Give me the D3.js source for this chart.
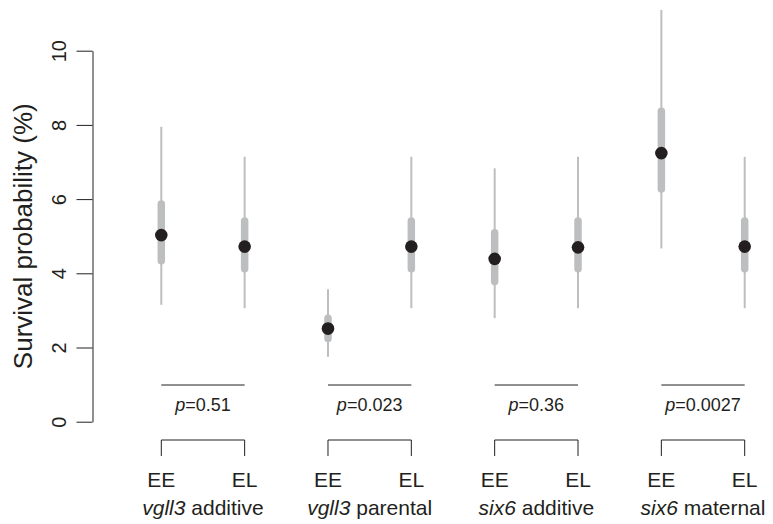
<!DOCTYPE html>
<html>
<head>
<meta charset="utf-8">
<script src="https://cdn.jsdelivr.net/npm/d3@7"></script>
<style>
  body { margin: 0; background: #fff; }
  text { font-family: "Liberation Sans", Arial, Helvetica, sans-serif; fill: #231f20; }
</style>
</head>
<body>
<div id="chart"></div>
<script>
// Genotype categories along the x axis (two per comparison)
var genotypes = ["EE", "EL", "EE", "EL", "EE", "EL", "EE", "EL"];
// Comparison labels: gene (italic) + model
var genes = ["vgll3", "vgll3", "six6", "six6"];
var models = ["additive", "parental", "additive", "maternal"];
var pValues = ["0.51", "0.023", "0.36", "0.0027"];

// Survival probability (%) estimates and intervals
var estimate = [5.03, 4.72, 2.51, 4.72, 4.39, 4.70, 7.24, 4.72];
var inner_lo = [4.34, 4.12, 2.24, 4.12, 3.78, 4.12, 6.27, 4.12];
var inner_hi = [5.87, 5.41, 2.79, 5.41, 5.09, 5.41, 8.37, 5.41];
var outer_lo = [3.15, 3.06, 1.75, 3.06, 2.79, 3.06, 4.67, 3.06];
var outer_hi = [7.95, 7.14, 3.57, 7.14, 6.83, 7.14, 11.1, 7.14];

var yTicks = [0, 2, 4, 6, 8, 10];

var width = 773, height = 524;
var grey = "#bdbec0", dark = "#231f20";

var svg = d3.select("#chart").append("svg")
    .attr("width", width)
    .attr("height", height);

// Scales
var x = d3.scaleLinear().domain([0, 7]).range([161.3, 744.7]);
var y = d3.scaleLinear().domain([0, 10]).range([421.7, 50.7]);

// Y axis
var yAxis = svg.append("g")
    .attr("transform", "translate(92.5,0)")
    .call(d3.axisLeft(y).tickValues(yTicks).tickSize(16).tickSizeOuter(0).tickFormat(d3.format("d")));
yAxis.select(".domain").attr("stroke", dark);
yAxis.selectAll(".tick line").attr("stroke", dark);
yAxis.selectAll(".tick text")
    .attr("x", null).attr("dy", null)
    .attr("transform", "translate(-27,0) rotate(-90)")
    .attr("text-anchor", "middle")
    .style("font-size", "20px")
    .attr("fill", dark);

// Y label
svg.append("text")
    .attr("transform", "translate(32," + ((y(0) + y(10)) / 2) + ") rotate(-90)")
    .attr("text-anchor", "middle")
    .style("font-size", "26px")
    .text("Survival probability (%)");

var idx = d3.range(estimate.length);

// Outer intervals (thin)
svg.selectAll(".outer")
    .data(idx)
    .enter()
    .append("line")
    .attr("x1", d => x(d)).attr("x2", d => x(d))
    .attr("y1", d => y(outer_lo[d])).attr("y2", d => y(outer_hi[d]))
    .attr("stroke", grey)
    .attr("stroke-width", 2);

// Inner intervals (thick, round ends)
svg.selectAll(".inner")
    .data(idx)
    .enter()
    .append("line")
    .attr("x1", d => x(d)).attr("x2", d => x(d))
    .attr("y1", d => y(inner_lo[d])).attr("y2", d => y(inner_hi[d]))
    .attr("stroke", grey)
    .attr("stroke-width", 7.5)
    .attr("stroke-linecap", "round");

// Point estimates
svg.selectAll(".pt")
    .data(idx)
    .enter()
    .append("circle")
    .attr("cx", d => x(d))
    .attr("cy", d => y(estimate[d]))
    .attr("r", 6.3)
    .attr("fill", dark);

var gi = d3.range(genes.length);

// p-value lines and labels
svg.selectAll(".pline")
    .data(gi)
    .enter()
    .append("line")
    .attr("x1", d => x(2 * d)).attr("x2", d => x(2 * d + 1))
    .attr("y1", 385).attr("y2", 385)
    .attr("stroke", dark)
    .attr("stroke-width", 1);

var ptext = svg.selectAll(".ptext")
    .data(gi)
    .enter()
    .append("text")
    .attr("x", d => (x(2 * d) + x(2 * d + 1)) / 2)
    .attr("y", 411)
    .attr("text-anchor", "middle")
    .style("font-size", "18px");
ptext.append("tspan").style("font-style", "italic").text("p");
ptext.append("tspan").text(d => "=" + pValues[d]);

// Brackets
svg.selectAll(".bracket")
    .data(gi)
    .enter()
    .append("path")
    .attr("d", d => "M" + x(2 * d) + ",456V440H" + x(2 * d + 1) + "V456")
    .attr("fill", "none")
    .attr("stroke", dark)
    .attr("stroke-width", 1);

// Genotype labels
svg.selectAll(".geno")
    .data(idx)
    .enter()
    .append("text")
    .attr("x", d => x(d))
    .attr("y", 487)
    .attr("text-anchor", "middle")
    .style("font-size", "21px")
    .text(d => genotypes[d]);

// Comparison labels
var glab = svg.selectAll(".glab")
    .data(gi)
    .enter()
    .append("text")
    .attr("x", d => (x(2 * d) + x(2 * d + 1)) / 2)
    .attr("y", 515)
    .attr("text-anchor", "middle")
    .style("font-size", "21px");
glab.append("tspan").style("font-style", "italic").text(d => genes[d]);
glab.append("tspan").text(d => " " + models[d]);
</script>
</body>
</html>
